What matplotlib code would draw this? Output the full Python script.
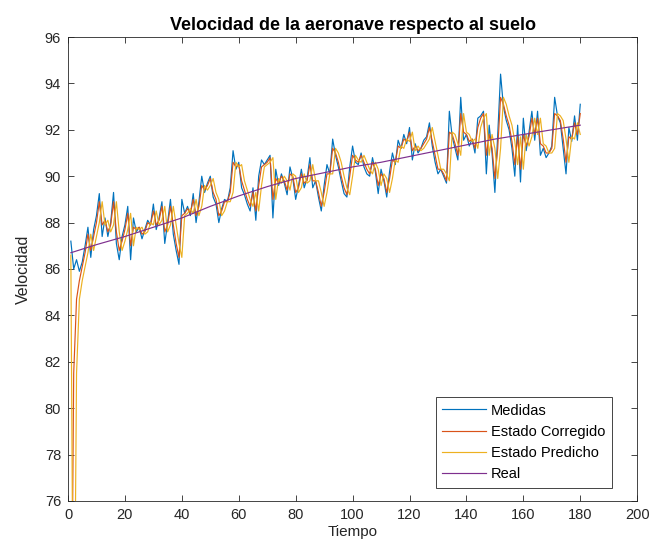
import matplotlib
matplotlib.use("Agg")
import matplotlib.pyplot as plt

plt.rcParams["font.family"] = ["Liberation Sans", "DejaVu Sans"]

# Time axis
tiempo = list(range(1, 181))

# Measured ground speed
medidas = [
    87.2, 86.0, 86.4, 85.9, 86.3, 87.0, 87.8, 86.5, 87.7, 88.3,
    89.25, 87.4, 88.2, 87.4, 88.0, 89.3, 87.1, 86.4, 87.4, 87.9,
    88.7, 86.4, 88.2, 87.6, 87.8, 87.3, 87.7, 88.1, 87.9, 88.8,
    87.7, 88.2, 88.9, 87.1, 88.0, 89.0, 87.5, 86.8, 86.2, 89.0,
    88.4, 88.7, 88.3, 89.25, 88.0, 88.9, 90.0, 89.3, 89.7, 90.0,
    89.1, 88.8, 88.0, 88.6, 89.0, 88.9, 89.5, 91.1, 90.3, 90.6,
    89.5, 89.2, 88.8, 88.5, 89.5, 88.1, 90.0, 90.7, 90.5, 90.7,
    90.9, 88.2, 90.3, 89.6, 90.1, 89.7, 89.2, 90.4, 89.9, 89.0,
    89.6, 90.3, 89.5, 89.9, 90.8, 89.5, 89.8, 89.1, 88.5, 89.6,
    90.5, 90.1, 91.6, 90.9, 90.4, 89.8, 89.25, 89.1, 90.4, 91.3,
    90.6, 90.5, 91.0, 90.4, 90.1, 90.0, 90.8, 90.2, 89.25, 90.3,
    89.8, 89.1, 90.2, 91.0, 90.5, 91.55, 91.2, 91.8, 91.4, 92.1,
    90.7, 91.4, 91.0, 91.2, 91.55, 91.7, 92.3, 91.3, 90.6, 90.1,
    90.3, 90.0, 89.7, 92.8, 91.7, 91.2, 90.7, 93.4, 91.55, 91.8,
    91.3, 91.6, 91.0, 92.5, 92.6, 92.8, 90.1, 92.2, 91.0, 89.3,
    91.8, 94.4, 93.0, 92.4, 92.0, 91.2, 90.0, 92.2, 89.75, 92.5,
    91.1, 91.9, 92.8, 91.55, 92.8, 90.9, 91.2, 90.8, 91.0, 91.3,
    93.4, 92.6, 92.3, 91.2, 90.1, 92.1, 91.5, 92.6, 91.55, 93.1,
]

# Filter estimate after each measurement update
estado_corregido = [
    66.0, 81.5, 84.7, 85.5, 86.1, 86.7, 87.5, 86.8, 87.4, 88.0,
    88.9, 87.9, 88.1, 87.6, 87.9, 88.9, 87.6, 86.8, 87.2, 87.7,
    88.4, 87.0, 87.8, 87.7, 87.8, 87.5, 87.6, 88.0, 87.9, 88.5,
    87.9, 88.1, 88.7, 87.6, 87.9, 88.7, 87.9, 87.1, 86.5, 88.3,
    88.4, 88.6, 88.4, 89.0, 88.3, 88.7, 89.6, 89.4, 89.6, 89.9,
    89.3, 89.0, 88.3, 88.5, 88.9, 88.9, 89.3, 90.6, 90.4, 90.5,
    89.8, 89.4, 89.0, 88.7, 89.3, 88.5, 89.6, 90.4, 90.5, 90.6,
    90.8, 89.0, 89.9, 89.7, 90.0, 89.8, 89.4, 90.1, 90.0, 89.3,
    89.5, 90.1, 89.7, 89.8, 90.5, 89.8, 89.8, 89.3, 88.7, 89.3,
    90.1, 90.1, 91.2, 91.0, 90.6, 90.0, 89.5, 89.2, 90.0, 90.9,
    90.7, 90.6, 90.9, 90.6, 90.3, 90.1, 90.6, 90.3, 89.6, 90.1,
    89.9, 89.3, 89.9, 90.7, 90.6, 91.3, 91.2, 91.6, 91.5, 91.9,
    91.1, 91.3, 91.1, 91.2, 91.4, 91.6, 92.1, 91.5, 90.9, 90.3,
    90.3, 90.1, 89.8, 91.9, 91.8, 91.4, 90.9, 92.7, 91.9, 91.8,
    91.5, 91.6, 91.2, 92.1, 92.5, 92.7, 90.9, 91.8, 91.2, 89.9,
    91.2, 93.4, 93.1, 92.6, 92.2, 91.5, 90.5, 91.7, 90.3, 91.8,
    91.3, 91.7, 92.5, 91.8, 92.5, 91.4, 91.3, 91.0, 91.0, 91.2,
    92.7, 92.6, 92.4, 91.6, 90.6, 91.7, 91.6, 92.3, 91.8, 92.7,
]

# One-step-ahead prediction of the filter
estado_predicho = [
    86.6, 66.0, 81.5, 84.7, 85.5, 86.1, 86.7, 87.5, 86.8, 87.4,
    88.0, 88.9, 87.9, 88.1, 87.6, 87.9, 88.9, 87.6, 86.8, 87.2,
    87.7, 88.4, 87.0, 87.8, 87.7, 87.8, 87.5, 87.6, 88.0, 87.9,
    88.5, 87.9, 88.1, 88.7, 87.6, 87.9, 88.7, 87.9, 87.1, 86.5,
    88.3, 88.4, 88.6, 88.4, 89.0, 88.3, 88.7, 89.6, 89.4, 89.6,
    89.9, 89.3, 89.0, 88.3, 88.5, 88.9, 88.9, 89.3, 90.6, 90.4,
    90.5, 89.8, 89.4, 89.0, 88.7, 89.3, 88.5, 89.6, 90.4, 90.5,
    90.6, 90.8, 89.0, 89.9, 89.7, 90.0, 89.8, 89.4, 90.1, 90.0,
    89.3, 89.5, 90.1, 89.7, 89.8, 90.5, 89.8, 89.8, 89.3, 88.7,
    89.3, 90.1, 90.1, 91.2, 91.0, 90.6, 90.0, 89.5, 89.2, 90.0,
    90.9, 90.7, 90.6, 90.9, 90.6, 90.3, 90.1, 90.6, 90.3, 89.6,
    90.1, 89.9, 89.3, 89.9, 90.7, 90.6, 91.3, 91.2, 91.6, 91.5,
    91.9, 91.1, 91.3, 91.1, 91.2, 91.4, 91.6, 92.1, 91.5, 90.9,
    90.3, 90.3, 90.1, 89.8, 91.9, 91.8, 91.4, 90.9, 92.7, 91.9,
    91.8, 91.5, 91.6, 91.2, 92.1, 92.5, 92.7, 90.9, 91.8, 91.2,
    89.9, 91.2, 93.4, 93.1, 92.6, 92.2, 91.5, 90.5, 91.7, 90.3,
    91.8, 91.3, 91.7, 92.5, 91.8, 92.5, 91.4, 91.3, 91.0, 91.0,
    91.2, 92.7, 92.6, 92.4, 91.6, 90.6, 91.7, 91.6, 92.3, 91.8,
]

# True ground speed
tiempo_real = [1, 10, 20, 30, 40, 50, 60, 70, 80, 90,
               100, 110, 120, 130, 140, 150, 160, 170, 180]
velocidad_real = [86.7, 87.05, 87.4, 87.8, 88.2, 88.7, 89.15, 89.55, 89.9, 90.15,
                  90.4, 90.6, 90.85, 91.1, 91.35, 91.6, 91.8, 92.0, 92.2]

x_ticks = list(range(0, 201, 20))
y_ticks = list(range(76, 97, 2))

# MATLAB-like default line colours
c_med = "#0072BD"
c_cor = "#D95319"
c_pre = "#EDB120"
c_real = "#7E2F8E"
axis_col = "#262626"

fig = plt.figure(figsize=(6.70, 5.59), dpi=100)
ax = fig.add_axes([0.1015, 0.1038, 0.8495, 0.830])

lw = 0.85
ax.plot(tiempo, medidas, color=c_med, lw=lw, label="Medidas")
ax.plot(tiempo, estado_corregido, color=c_cor, lw=lw, label="Estado Corregido")
ax.plot(tiempo, estado_predicho, color=c_pre, lw=lw, label="Estado Predicho")
ax.plot(tiempo_real, velocidad_real, color=c_real, lw=lw, label="Real")

ax.set_xlim(0, 200)
ax.set_ylim(76, 96)
ax.set_xticks(x_ticks)
ax.set_yticks(y_ticks)

ax.tick_params(direction="in", length=4, width=0.6, colors=axis_col,
               labelsize=10.5, top=True, right=True, pad=5)
for sp in ax.spines.values():
    sp.set_color(axis_col)
    sp.set_linewidth(0.6)

ax.set_title("Velocidad de la aeronave respecto al suelo",
             fontsize=13, fontweight="bold", color="black", pad=5)
ax.set_xlabel("Tiempo", fontsize=11, color=axis_col, labelpad=2)
ax.set_ylabel("Velocidad", fontsize=11.5, color=axis_col, labelpad=10)

leg = ax.legend(loc="lower right", bbox_to_anchor=(0.955, 0.028),
                fontsize=10.5, handlelength=3.0, handletextpad=0.3,
                labelspacing=0.5, borderpad=0.45, borderaxespad=0.0,
                fancybox=False, framealpha=1, edgecolor=axis_col)
leg.get_frame().set_linewidth(0.6)

fig.savefig("out.png", dpi=100, facecolor="white")
